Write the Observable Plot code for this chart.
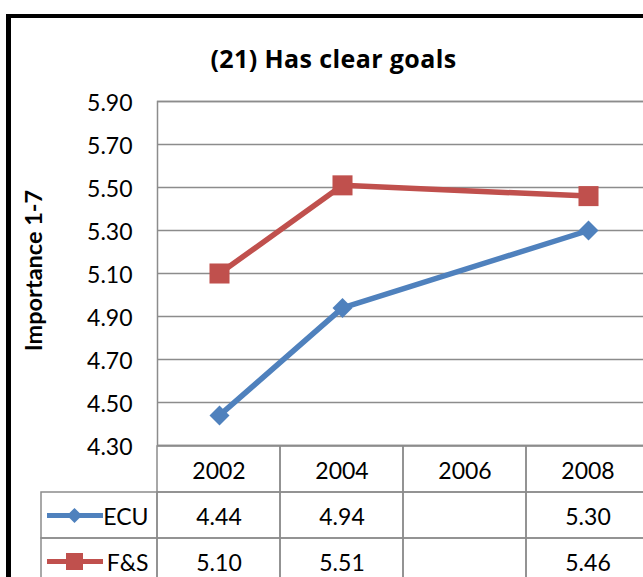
<!DOCTYPE html>
<html>
<head>
<meta charset="utf-8">
<script src="https://cdn.jsdelivr.net/npm/d3@7"></script>
<script src="https://cdn.jsdelivr.net/npm/@observablehq/plot@0.6"></script>
<style>
  html, body { margin: 0; padding: 0; background: #fff; overflow: hidden; }
  #wrap { position: relative; width: 643px; height: 577px; overflow: hidden; background: #fff; font-family: Lato, sans-serif; }
  #frame { position: absolute; left: 6px; top: 14px; width: 800px; height: 700px; border-left: 5px solid #000; border-top: 4px solid #000; box-sizing: border-box; }
  #title { position: absolute; left: 0; top: 45.8px; width: 667px; text-align: center; font: bold 25px/1 "Open Sans", sans-serif; letter-spacing: 0.4px; color: #000; white-space: nowrap; }
  .layer { position: absolute; left: 0; }
</style>
</head>
<body>
<div id="wrap">
  <div id="frame"></div>
  <div id="main" class="layer" style="top:0"></div>
  <div id="table" class="layer" style="top:446px"></div>
  <div id="title"></div>
</div>
<script>
// ---- data ----
const titleText = "(21) Has clear goals";
const yLabel = "Importance 1-7";
const years = ["2002", "2004", "2006", "2008"];
const seriesNames = ["ECU", "F&S"];
const seriesColors = ["#4F81BD", "#C0504D"];
const seriesSymbols = ["diamond2", "square"];
const ecuValues = [4.44, 4.94, null, 5.30];
const fsValues = [5.10, 5.51, null, 5.46];
const yTicks = [4.30, 4.50, 4.70, 4.90, 5.10, 5.30, 5.50, 5.70, 5.90];

// ---- derived tables ----
const valueLists = [ecuValues, fsValues];
const rows = [];
seriesNames.forEach((s, si) => years.forEach((yr, yi) => rows.push({series: s, year: yr, value: valueLists[si][yi]})));
const present = rows.filter(d => d.value != null);
const legendRows = seriesNames.map((s, i) => ({series: s, color: seriesColors[i], symbol: seriesSymbols[i]}));
const rowKeys = ["head", ...seriesNames];
const gridCells = [];
rowKeys.forEach(r => years.forEach(y => gridCells.push({row: r, year: y})));
const fmt = d3.format(".2f");
const gray = "#8c8c8c";

document.getElementById("title").textContent = titleText;

const baseStyle = {background: "transparent", fontFamily: "Lato, sans-serif", fontSize: "23px", color: "#000", overflow: "visible", maxWidth: "none"};

const main = Plot.plot({
  width: 660, height: 494,
  marginTop: 101, marginBottom: 49, marginLeft: 157, marginRight: 11,
  style: baseStyle,
  x: {type: "point", domain: years, padding: 0.5, axis: null},
  y: {domain: [4.3, 5.9], axis: null},
  marks: [
    Plot.gridY(yTicks, {stroke: gray, strokeOpacity: 1, strokeWidth: 1.5}),
    Plot.frame({stroke: gray, strokeWidth: 1.5}),
    Plot.axisY(yTicks, {label: null, tickSize: 0, tickPadding: 25, tickFormat: fmt, fontSize: 23, dy: 2, fill: "#000"}),
    Plot.text([yLabel], {frameAnchor: "left", textAnchor: "middle", rotate: -90, dx: -123, dy: -3, fontWeight: "bold", fontSize: 23.5, fill: "#000"}),
    Plot.line(present, {x: "year", y: "value", z: "series", stroke: d => seriesColors[seriesNames.indexOf(d.series)], strokeWidth: 5.5}),
    Plot.dot(present.filter(d => d.series === "ECU"), {x: "year", y: "value", symbol: "diamond2", r: 9, fill: seriesColors[0], stroke: "none"}),
    Plot.dot(present.filter(d => d.series === "F&S"), {x: "year", y: "value", symbol: "square", r: 11.3, fill: seriesColors[1], stroke: "none"})
  ]
});
document.getElementById("main").appendChild(main);

const table = Plot.plot({
  width: 660, height: 138,
  marginTop: 0, marginBottom: 0, marginLeft: 0, marginRight: 0,
  style: baseStyle,
  x: {type: "band", domain: ["legend", ...years], range: [34, 649], padding: 0, axis: null},
  y: {type: "band", domain: rowKeys, range: [0, 138], padding: 0, axis: null},
  marks: [
    Plot.cell(gridCells, {x: "year", y: "row", fill: "none", stroke: gray, strokeWidth: 1.5}),
    Plot.cell(legendRows, {x: () => "legend", y: "series", fill: "none", stroke: gray, strokeWidth: 1.5, insetLeft: 7}),
    Plot.text(years, {x: d => d, y: () => "head", text: d => d, fontSize: 23, dy: 2, fill: "#000"}),
    Plot.text(rows, {x: "year", y: "series", text: d => d.value == null ? "" : fmt(d.value), fontSize: 23, dy: 2, fill: "#000"}),
    Plot.tickY(legendRows, {x: () => "legend", y: "series", stroke: "color", strokeWidth: 5, insetLeft: 13, insetRight: 54}),
    Plot.dot(legendRows.filter(d => d.symbol === "diamond2"), {x: () => "legend", y: "series", symbol: "diamond2", r: 6.8, fill: "color", stroke: "none", dx: -21.5}),
    Plot.dot(legendRows.filter(d => d.symbol === "square"), {x: () => "legend", y: "series", symbol: "square", r: 9.6, fill: "color", stroke: "none", dx: -21.5}),
    Plot.text(legendRows, {x: () => "legend", y: "series", text: "series", textAnchor: "end", dx: 52.5, dy: 2, fontSize: 23, fill: "#000"})
  ]
});
document.getElementById("table").appendChild(table);
</script>
</body>
</html>
